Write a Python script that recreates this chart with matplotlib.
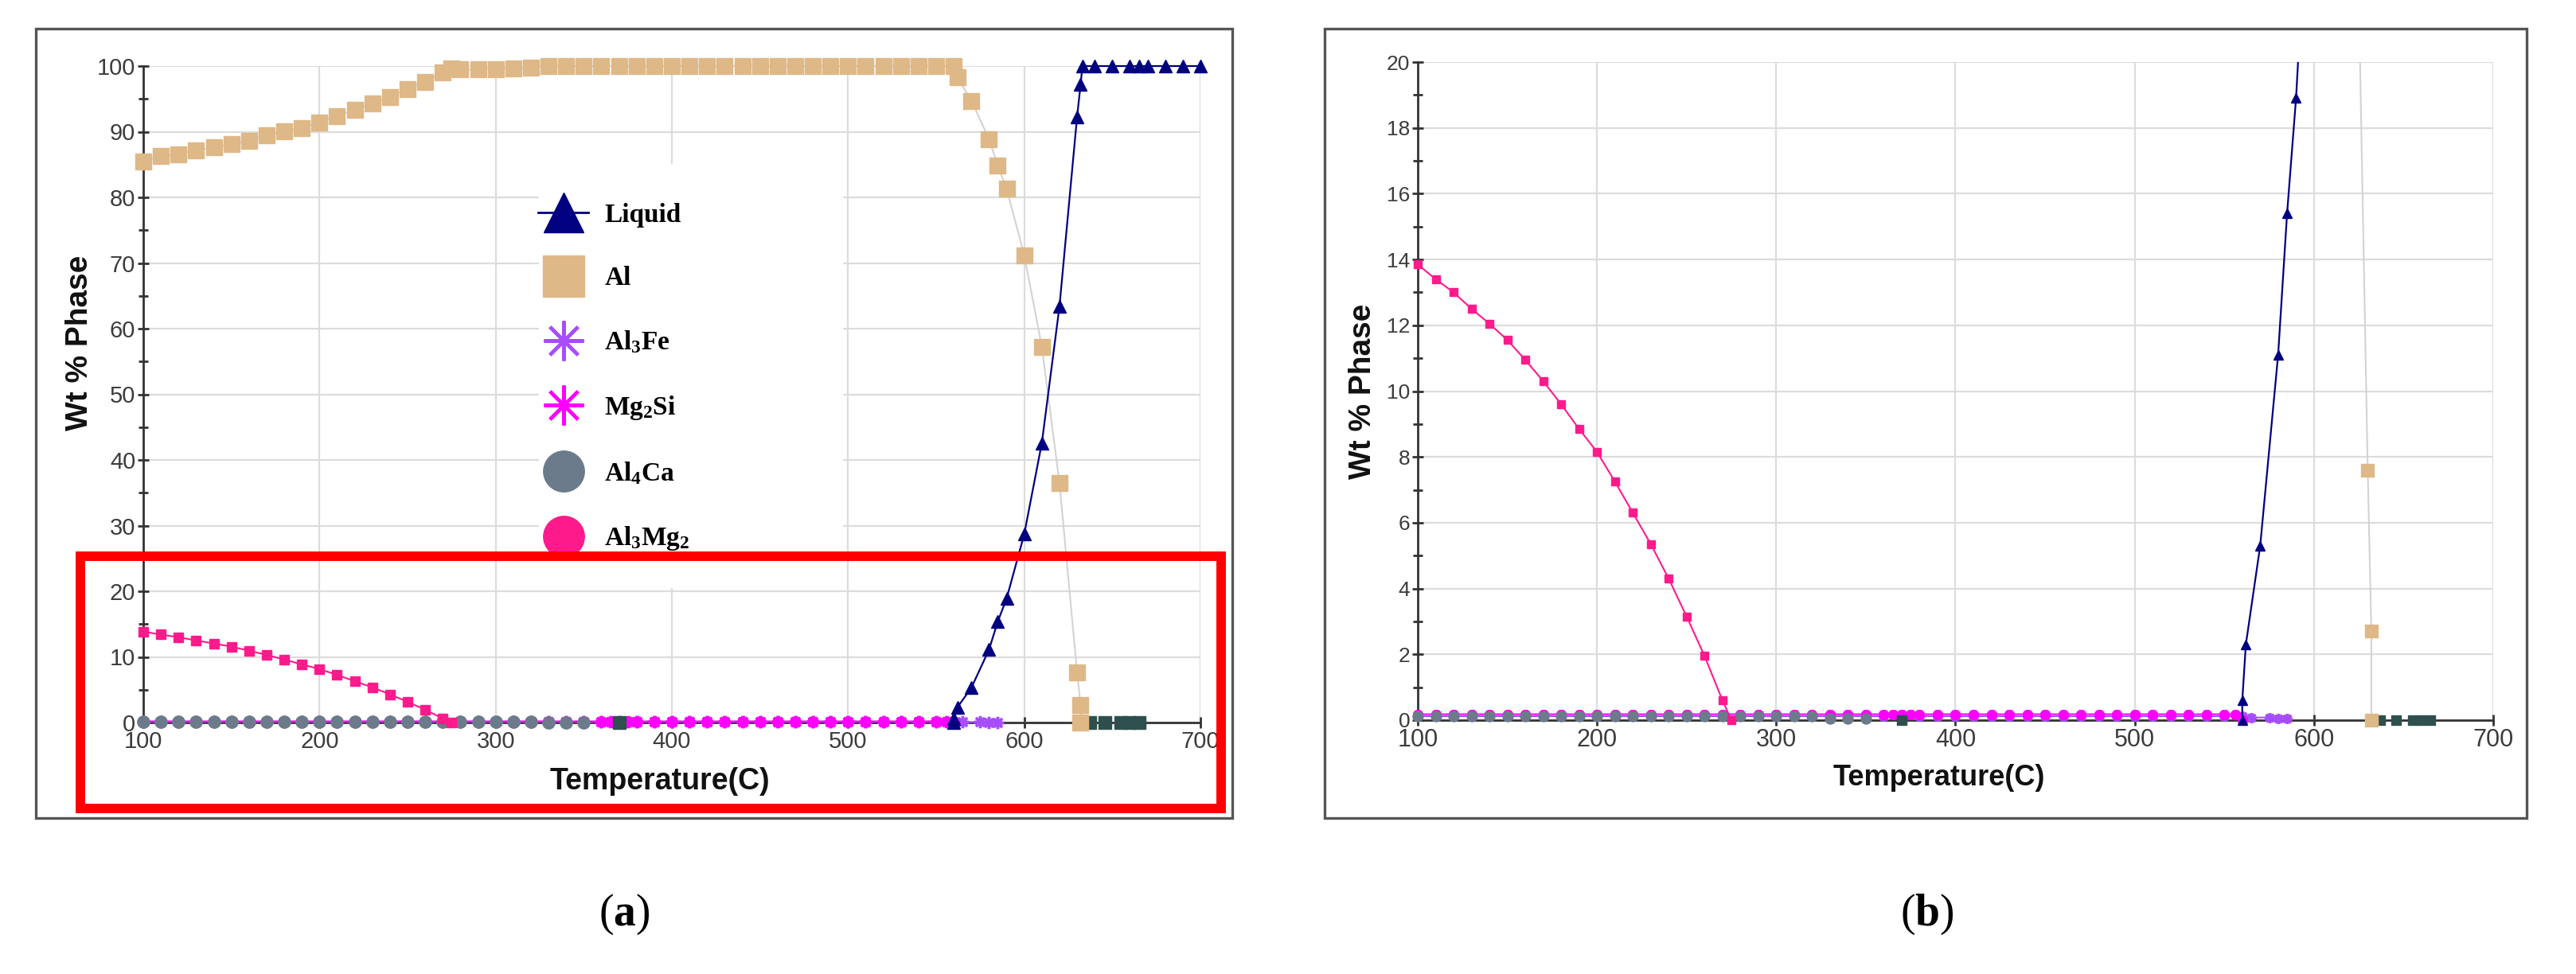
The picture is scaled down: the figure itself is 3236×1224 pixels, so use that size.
import matplotlib
matplotlib.use('Agg')
import matplotlib.pyplot as plt
from matplotlib.lines import Line2D
from matplotlib.patches import Rectangle
from matplotlib.ticker import MultipleLocator

plt.rcParams['font.family'] = ['Liberation Sans Narrow', 'Liberation Sans', 'DejaVu Sans']
plt.rcParams['mathtext.fontset'] = 'custom'
plt.rcParams['mathtext.rm'] = 'Liberation Serif:bold'
plt.rcParams['mathtext.it'] = 'Liberation Serif:bold'
plt.rcParams['mathtext.bf'] = 'Liberation Serif:bold'

# ---- data (temperature in C, wt % phase) ----
liq_t = [560, 560, 562, 570, 580, 585, 590, 600, 610, 620, 630, 632, 633, 640, 650, 660, 665, 670, 680, 690, 700]
liq_v = [0, 0.6, 2.3, 5.3, 11.1, 15.4, 18.9, 28.7, 42.6, 63.4, 92.3, 97.2, 100, 100, 100, 100, 100, 100, 100, 100, 100]

al_t = [100, 110, 120, 130, 140, 150, 160, 170, 180, 190, 200, 210, 220, 230, 240, 250, 260, 270, 275,
        280, 290, 300, 310, 320, 330, 340, 350, 360, 370, 380, 390, 400, 410, 420, 430, 440, 450, 460,
        470, 480, 490, 500, 510, 520, 530, 540, 550, 560, 562, 570, 580, 585, 590, 600, 610, 620, 630, 632, 632]
al_v = [85.5, 86.3, 86.6, 87.2, 87.6, 88.1, 88.6, 89.4, 90.1, 90.6, 91.4, 92.4, 93.3, 94.3, 95.3, 96.5, 97.6, 99.0, 99.6,
        99.5, 99.5, 99.5, 99.6, 99.8, 100, 100, 100, 100, 100, 100, 100, 100, 100, 100, 100, 100, 100, 100,
        100, 100, 100, 100, 100, 100, 100, 100, 100, 100, 98.3, 94.7, 88.9, 84.8, 81.3, 71.2, 57.2, 36.5, 7.6, 2.7, 0]

al3fe_t = [100, 110, 120, 130, 140, 150, 160, 170, 180, 190, 200, 210, 220, 230, 240, 250, 260, 270, 280,
           290, 300, 310, 320, 330, 340, 350, 360, 370, 380, 390, 400, 410, 420, 430, 440, 450, 460, 470,
           480, 490, 500, 510, 520, 530, 540, 550, 560, 565, 575, 580, 585]
al3fe_v = [0.12] * 47 + [0.08, 0.08, 0.06, 0.05]

mg2si_t = [100, 110, 120, 130, 140, 150, 160, 170, 180, 190, 200, 210, 220, 230, 240, 250, 260, 270, 280,
           290, 300, 310, 320, 330, 340, 350, 360, 365, 370, 375, 380, 390, 400, 410, 420, 430, 440, 450,
           460, 470, 480, 490, 500, 510, 520, 530, 540, 550, 556, 560]
mg2si_v = [0.18] * 49 + [0.0]

al4ca_t = [100, 110, 120, 130, 140, 150, 160, 170, 180, 190, 200, 210, 220, 230, 240, 250, 260, 270, 280,
           290, 300, 310, 320, 330, 340, 350]
al4ca_v = [0.12] * 23 + [0.06, 0.05, 0.05]

al3mg2_t = [100, 110, 120, 130, 140, 150, 160, 170, 180, 190, 200, 210, 220, 230, 240, 250, 260, 270, 275]
al3mg2_v = [13.85, 13.4, 13.0, 12.5, 12.05, 11.55, 10.95, 10.3, 9.6, 8.85, 8.15, 7.25, 6.3, 5.35, 4.3, 3.15, 1.95, 0.6, 0]

other_t = [370, 637, 646, 655, 660, 665]
other_v = [0, 0, 0, 0, 0, 0]

W, H = 3237, 1224
fig = plt.figure(figsize=(W / 100, H / 100), dpi=100)

# panel frames
for x0, x1 in [(45, 1548), (1664, 3174)]:
    fig.add_artist(Rectangle((x0 / W, 1 - 1028 / H), (x1 - x0) / W, (1028 - 36) / H,
                             transform=fig.transFigure, fill=False, edgecolor='#555555', lw=2.4, zorder=0))

ax_a = fig.add_axes([180 / W, 1 - 908 / H, 1328 / W, (908 - 83) / H])
ax_b = fig.add_axes([1781 / W, 1 - 905 / H, 1351 / W, (905 - 78) / H])

panels = [
    # ax, ymax, major, minor, size scale, x tick size, y tick size
    (ax_a, 100, 10, 5, 1.0, 21, 21),
    (ax_b, 20, 2, 1, 0.85, 22, 19),
]

for ax, ymax, major, minor, k, xs, ys in panels:
    ax.set_xlim(100, 700)
    ax.set_ylim(0, ymax)
    ax.xaxis.set_major_locator(MultipleLocator(100))
    ax.yaxis.set_major_locator(MultipleLocator(major))
    ax.yaxis.set_minor_locator(MultipleLocator(minor))
    for s in ['top', 'right']:
        ax.spines[s].set_visible(False)
    for s in ['left', 'bottom']:
        ax.spines[s].set_color('#333333')
        ax.spines[s].set_linewidth(2)
    ax.tick_params(axis='both', which='major', direction='inout', length=10, width=2,
                   color='#333333', labelcolor='#3c3c3c', pad=2)
    ax.tick_params(axis='x', labelsize=xs)
    ax.tick_params(axis='y', labelsize=ys)
    ax.tick_params(axis='y', which='minor', direction='inout', length=8, width=2, color='#333333')
    ax.grid(True, which='major', color='#dcdcdc', lw=1.6)
    ax.xaxis.get_gridlines()[-1].set_visible(False)
    ax.set_axisbelow(True)

    if ax is ax_b:
        clip = Rectangle((-0.05, -0.1), 1.1, 1.1, transform=ax.transAxes)
    else:
        clip = None

    series = [
        (al3fe_t, al3fe_v, dict(color='#a64dff', marker=(8, 2, 0), ms=11 * k, mew=2.5, lw=1.5)),
        (mg2si_t, mg2si_v, dict(color='#ff00ff', marker=(8, 2, 0), ms=11 * k, mew=3, lw=1.5)),
        (al4ca_t, al4ca_v, dict(color='#6c7b8b', marker='o', ms=11 * k, lw=0)),
        (al3mg2_t, al3mg2_v, dict(color='#ff1a8c', marker='s', ms=9 * k, lw=1.5)),
        (other_t, other_v, dict(color='#2f4f4f', marker='s', ms=11 * k, lw=0)),
        (al_t, al_v, dict(color='#d3d3d3', marker='s', ms=14 * k, mfc='#deb887', mec='#deb887', lw=1.5)),
        (liq_t, liq_v, dict(color='#000080', marker='^', ms=11 * k, lw=1.6)),
    ]
    for t, v, st in series:
        line, = ax.plot(t, v, clip_on=False, zorder=3, **st)
        if clip is not None:
            line.set_clip_on(True)
            line.set_clip_path(clip)

ax_a.set_xlabel('Temperature(C)', fontsize=27, fontweight='bold', color='#111111')
ax_a.set_ylabel('Wt % Phase', fontsize=28, fontweight='bold', color='#111111')
ax_b.set_xlabel('Temperature(C)', fontsize=26, fontweight='bold', color='#111111')
ax_b.set_ylabel('Wt % Phase', fontsize=28, fontweight='bold', color='#111111')

ax_a.xaxis.set_label_coords(0.489, -0.068)
ax_a.yaxis.set_label_coords(-0.047, 0.578)
ax_b.xaxis.set_label_coords(0.4845, -0.067)
ax_b.yaxis.set_label_coords(-0.038, 0.5)

# white patch behind the legend (hides the grid there)
ax_a.add_patch(Rectangle((677 / W, 1 - 739 / H), (1059 - 677) / W, (739 - 206) / H,
                         transform=fig.transFigure, facecolor='white', edgecolor='none',
                         zorder=1.5, clip_on=False))

# legend in panel (a)
names = ['Liquid', 'Al', r'Al$_3$Fe', r'Mg$_2$Si', r'Al$_4$Ca', r'Al$_3$Mg$_2$']
handles = [
    Line2D([], [], color='#000080', marker='^', ms=36, lw=2),
    Line2D([], [], color='#deb887', marker='s', ms=37, lw=0),
    Line2D([], [], color='#a64dff', marker=(8, 2, 0), ms=36, mew=3, lw=0),
    Line2D([], [], color='#ff00ff', marker=(8, 2, 0), ms=36, mew=3, lw=0),
    Line2D([], [], color='#6c7b8b', marker='o', ms=37, lw=0),
    Line2D([], [], color='#ff1a8c', marker='o', ms=37, lw=0),
]
leg = ax_a.legend(handles, names, loc='upper left', bbox_to_anchor=(626 / W, 1 - 205 / H),
                  bbox_transform=fig.transFigure, frameon=False,
                  handlelength=1.9, handletextpad=0.6,
                  labelspacing=1.45, borderpad=1.0,
                  prop={'family': ['Liberation Serif'], 'weight': 'bold', 'size': 24})
leg.set_zorder(5)

# highlight box
fig.add_artist(Rectangle((101 / W, 1 - 1016 / H), (1534 - 101) / W, (1016 - 699) / H,
                         transform=fig.transFigure, fill=False, edgecolor='#ff0000', lw=8.6, zorder=10))

fig.text(784 / W, 1 - 1149 / H, r'($\mathbf{a}$)', ha='center', va='center', fontsize=40,
         family=['Liberation Serif'])
fig.text(2421 / W, 1 - 1149 / H, r'($\mathbf{b}$)', ha='center', va='center', fontsize=40,
         family=['Liberation Serif'])

fig.savefig('out.png', dpi=100, facecolor='white')
